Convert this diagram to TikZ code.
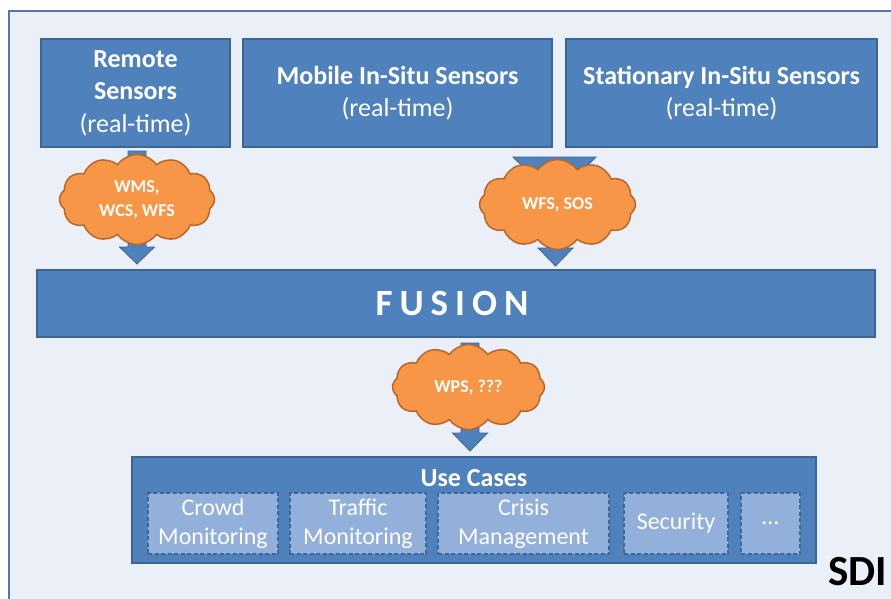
\documentclass[tikz,border=0pt]{standalone}
\usepackage{fontspec}
\setmainfont{Carlito}
\usetikzlibrary{shapes.symbols}
\definecolor{bgfill}{HTML}{EBF0F8}
\definecolor{framecol}{HTML}{5477A6}
\definecolor{boxfill}{HTML}{4F81BD}
\definecolor{boxline}{HTML}{3C6494}
\definecolor{subfill}{HTML}{92B0DA}
\definecolor{subline}{HTML}{3F6699}
\definecolor{cloudfill}{HTML}{F79646}
\definecolor{cloudline}{HTML}{B8672B}
\tikzset{
  bluebox/.style={draw=boxline, fill=boxfill, line width=1.5pt, text=white,
    align=center, inner sep=0pt},
  subbox/.style={draw=subline, fill=subfill, line width=1.2pt, dashed,
    dash pattern=on 4pt off 2.5pt, text=white, align=center, inner sep=0pt,
    minimum height=61pt, font=\fontsize{24}{29}\selectfont},
  cloudnode/.style={cloud, cloud puffs=12, cloud puff arc=110, cloud ignores aspect,
    draw=cloudline, fill=cloudfill, line width=1.5pt, inner sep=0pt},
  cloudtext/.style={text=white, align=center, inner sep=0pt,
    font=\bfseries\fontsize{18}{24}\selectfont},
  arrowst/.style={fill=boxfill, draw=boxline, line width=0.8pt},
  big/.style={font=\fontsize{26}{32.5}\selectfont}
}
\newcommand\blockarrow[4]{%
  \filldraw[arrowst] (#1-9,#2) -- (#1+9,#2) -- (#1+9,#3) -- (#1+17.5,#3)
    -- (#1,#4) -- (#1-17.5,#3) -- (#1-9,#3) -- cycle;}
\begin{document}
\begin{tikzpicture}[x=1pt,y=-1pt]
\useasboundingbox (0,0) rectangle (891,598);
% background frame
\filldraw[fill=bgfill, draw=framecol, line width=2pt] (9,11) rectangle (910,620);

% sensor boxes
\node[bluebox, big, minimum width=189pt, minimum height=108pt] (rs) at (135.5,93)
  {\textbf{Remote}\\\textbf{Sensors}\\(real-time)};
\node[bluebox, big, minimum width=309pt, minimum height=108pt] (ms) at (397.5,93)
  {\textbf{Mobile In-Situ Sensors}\\(real-time)};
\node[bluebox, big, minimum width=311pt, minimum height=108pt] (ss) at (721.5,93)
  {\textbf{Stationary In-Situ Sensors}\\(real-time)};

% fusion bar
\node[bluebox, minimum width=838pt, minimum height=67pt,
  font=\bfseries\fontsize{37}{40}\selectfont] (fu) at (456,303.5)
  {\hspace*{-8pt}F\kern7pt U\kern7pt S\kern7pt I\kern7pt O\kern7pt N};

% arrows
\blockarrow{137}{151}{247}{264}
\filldraw[arrowst] (513,157) -- (596,157) -- (554.5,198) -- cycle;
\blockarrow{555.5}{180}{248}{266}
\blockarrow{470}{343}{433}{451}

% clouds
\node[cloudnode, minimum width=155pt, minimum height=90pt,
  label={[cloudtext]center:WMS,\\WCS, WFS}] (c1) at (137,199.5) {};
\node[cloudnode, minimum width=156pt, minimum height=90pt,
  label={[cloudtext]center:WFS, SOS}] (c2) at (557.5,204.5) {};
\node[cloudnode, minimum width=152pt, minimum height=85pt,
  label={[cloudtext]center:WPS, ???}] (c3) at (468.5,387) {};

% use cases
\node[bluebox, minimum width=684pt, minimum height=106pt] (uc) at (474,510) {};
\node[text=white, font=\bfseries\fontsize{26}{30}\selectfont, inner sep=0pt]
  (uct) at (474,478) {Use Cases};
\node[subbox, minimum width=130pt] (u1) at (213,523.5) {Crowd\\Monitoring};
\node[subbox, minimum width=136pt] (u2) at (358,523.5) {Traffic\\Monitoring};
\node[subbox, minimum width=171pt] (u3) at (523.5,523.5) {Crisis\\Management};
\node[subbox, minimum width=104pt] (u4) at (676,523.5) {Security};
\node[subbox, minimum width=59pt] (u5) at (770.5,523.5) {…};

% SDI
\node[anchor=west, inner sep=0pt, font=\bfseries\fontsize{43}{46}\selectfont]
  (sdi) at (828,572) {SDI};
\end{tikzpicture}
\end{document}
